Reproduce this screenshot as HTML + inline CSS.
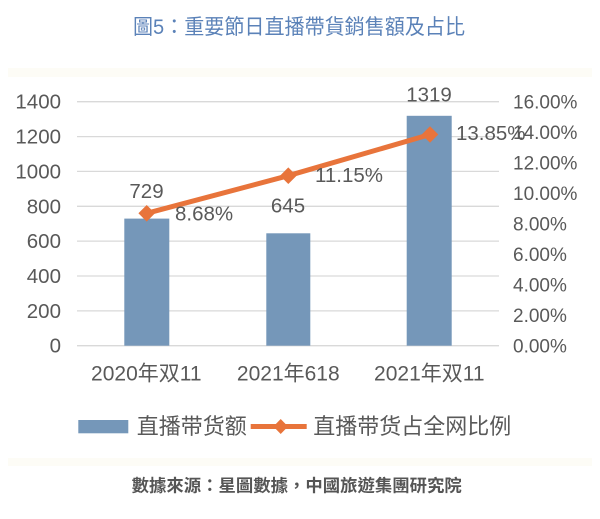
<!DOCTYPE html>
<html><head><meta charset="utf-8"><style>
html,body{margin:0;padding:0;background:#fff;}
svg{display:block;}
text{font-family:"Liberation Sans","Noto Sans CJK SC",sans-serif;fill:#595959;}
</style></head><body>
<svg width="600" height="519" viewBox="0 0 600 519" xmlns="http://www.w3.org/2000/svg">
<rect width="600" height="519" fill="#fff"/>
<rect x="8" y="68" width="584" height="9" fill="#fdfcf6"/>
<rect x="8" y="458" width="584" height="8" fill="#fdfcf6"/>
<text x="133" y="34" font-size="21" textLength="332" lengthAdjust="spacingAndGlyphs" style="fill:#5b82b8;font-family:'Liberation Sans','Noto Sans CJK TC',sans-serif">圖5：重要節日直播帶貨銷售額及占比</text>
<g stroke="#d9d9d9" stroke-width="1.3">
<line x1="77" y1="101.7" x2="499" y2="101.7"/>
<line x1="77" y1="136.6" x2="499" y2="136.6"/>
<line x1="77" y1="171.4" x2="499" y2="171.4"/>
<line x1="77" y1="206.3" x2="499" y2="206.3"/>
<line x1="77" y1="241.1" x2="499" y2="241.1"/>
<line x1="77" y1="276.0" x2="499" y2="276.0"/>
<line x1="77" y1="310.9" x2="499" y2="310.9"/>
<line x1="77" y1="345.7" x2="499" y2="345.7"/>
</g>
<g font-size="20.5" text-anchor="end">
<text x="61" y="108.7">1400</text>
<text x="61" y="143.6">1200</text>
<text x="61" y="178.4">1000</text>
<text x="61" y="213.3">800</text>
<text x="61" y="248.1">600</text>
<text x="61" y="283.0">400</text>
<text x="61" y="317.9">200</text>
<text x="61" y="352.7">0</text>
</g>
<g font-size="19">
<text x="513" y="108.7">16.00%</text>
<text x="513" y="139.2">14.00%</text>
<text x="513" y="169.7">12.00%</text>
<text x="513" y="200.2">10.00%</text>
<text x="513" y="230.7">8.00%</text>
<text x="513" y="261.2">6.00%</text>
<text x="513" y="291.7">4.00%</text>
<text x="513" y="322.2">2.00%</text>
<text x="513" y="352.7">0.00%</text>
</g>
<g fill="#7597b9">
<rect x="124.3" y="218.6" width="45" height="127.1"/>
<rect x="266.3" y="233.3" width="44" height="112.4"/>
<rect x="406.7" y="115.8" width="45" height="229.9"/>
</g>
<polyline points="146.7,213.3 288.3,175.7 430,134.5" fill="none" stroke="#e8743b" stroke-width="5" stroke-linejoin="round"/>
<g fill="#e8743b">
<polygon points="146.7,205 155,213.3 146.7,221.6 138.4,213.3"/>
<polygon points="288.3,167.4 296.6,175.7 288.3,184 280,175.7"/>
<polygon points="430,126.2 438.3,134.5 430,142.8 421.7,134.5"/>
</g>
<g font-size="20.5">
<text x="146.5" y="198" text-anchor="middle">729</text>
<text x="175" y="220.7">8.68%</text>
<text x="288" y="212.5" text-anchor="middle">645</text>
<text x="315" y="182.2">11.15%</text>
<text x="429" y="101.5" text-anchor="middle">1319</text>
<text x="456" y="140">13.85%</text>
</g>
<g font-size="21" text-anchor="middle">
<text x="146.3" y="380.5">2020年双11</text>
<text x="288.3" y="380.5">2021年618</text>
<text x="429.3" y="380.5">2021年双11</text>
</g>
<rect x="78.3" y="420" width="50" height="13.3" fill="#7597b9"/>
<text x="136.7" y="434" font-size="22">直播带货额</text>
<line x1="250.7" y1="426.5" x2="306.7" y2="426.5" stroke="#e8743b" stroke-width="5"/>
<polygon points="280.7,419 288,426.5 280.7,434 273.4,426.5" fill="#e8743b"/>
<text x="313.3" y="434" font-size="22">直播带货占全网比例</text>
<text x="131.7" y="491.5" font-size="17" font-weight="bold" textLength="330" lengthAdjust="spacingAndGlyphs" style="fill:#555;font-family:'Liberation Sans','Noto Sans CJK TC',sans-serif">數據來源：星圖數據，中國旅遊集團研究院</text>
</svg>
</body></html>
